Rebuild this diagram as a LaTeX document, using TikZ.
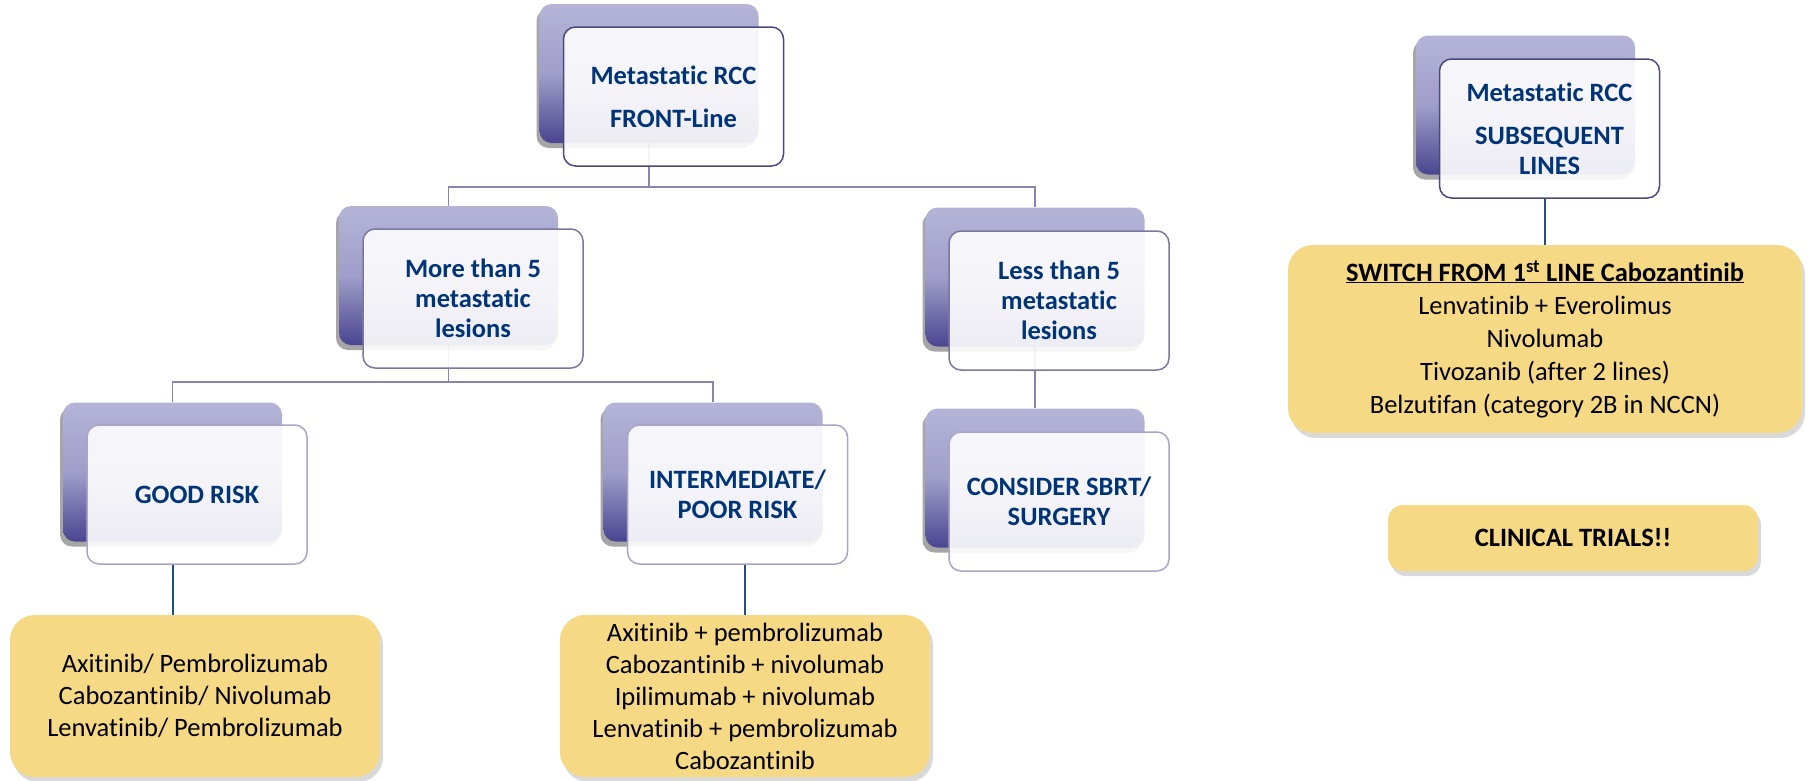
\documentclass[tikz,border=0pt]{standalone}
\usepackage{fontspec}
\setmainfont{Carlito}[Ligatures={NoCommon}]
\usetikzlibrary{shadows,calc,backgrounds}
\definecolor{lav}{RGB}{181,180,216}
\definecolor{indi}{RGB}{74,69,144}
\definecolor{headblue}{RGB}{0,52,120}
\definecolor{bordA}{RGB}{75,72,128}
\definecolor{bordB}{RGB}{122,120,160}
\definecolor{bordC}{RGB}{168,165,197}
\definecolor{treeline}{RGB}{135,132,175}
\definecolor{linkblue}{RGB}{31,78,140}
\definecolor{ylw}{RGB}{246,217,133}
\newcommand\headfont{\fontsize{26.5}{30}\selectfont\bfseries}
\newcommand\bodyfont{\fontsize{26.5}{32}\selectfont}
\tikzset{
 backbox/.style={minimum width=219pt, minimum height=139pt, rounded corners=12pt, inner sep=0pt,
   top color=lav, bottom color=indi, middle color=lav!80!indi,
   drop shadow={shadow xshift=-3pt, shadow yshift=-5pt, opacity=0.35, fill=black}},
 frontbox/.style={minimum width=220pt, minimum height=139pt, rounded corners=12pt, inner sep=4pt,
   fill=white, fill opacity=0.9, text opacity=1, draw, line width=1.5pt, align=center,
   text=headblue, font=\headfont},
 ybox/.style={fill=ylw, rounded corners=25pt, align=center, font=\bodyfont, inner sep=0pt,
   drop shadow={shadow xshift=3pt, shadow yshift=-5pt, opacity=0.3}},
 tree/.style={draw=treeline, line width=1.8pt},
 link/.style={draw=linkblue, line width=2pt},
}
\begin{document}
\begin{tikzpicture}[x=1pt,y=-1pt]
\useasboundingbox (0,0) rectangle (1810,780);
% back boxes
\node[backbox] (topb) at (649,73.5) {};
\node[backbox] (moreb) at (448.5,275.5) {};
\node[backbox] (lessb) at (1035,277) {};
\node[backbox] (goodb) at (172.5,472) {};
\node[backbox] (interb) at (713,472) {};
\node[backbox] (considerb) at (1035,478) {};
\node[backbox] (subsb) at (1525.5,105) {};
% tree connectors
\coordinate (bus1) at (0,187);
\coordinate (bus2) at (0,382);
\begin{scope}[on background layer]
\draw[tree] (topb.south) -- (topb.center |- bus1) -| (moreb.north);
\draw[tree] (topb.center |- bus1) -| (lessb.north);
\draw[tree] (moreb.south) -- (moreb.center |- bus2) -| (goodb.north);
\draw[tree] (moreb.center |- bus2) -| (interb.north);
\draw[tree] (lessb.south) -- (considerb.north);
\end{scope}
% front boxes
\node[frontbox, draw=bordA] (top) at (673.5,96.5) {Metastatic RCC\\[13pt]FRONT-Line};
\node[frontbox, draw=bordB] (more) at (473,298.5) {More than 5\\metastatic\\lesions};
\node[frontbox, draw=bordB] (less) at (1059,300.5) {Less than 5\\metastatic\\lesions};
\node[frontbox, draw=bordC] (good) at (197,494.5) {GOOD RISK};
\node[frontbox, draw=bordC] (inter) at (737.5,494.5) {INTERMEDIATE/\\POOR RISK};
\node[frontbox, draw=bordC] (consider) at (1059,501.5) {CONSIDER SBRT/\\SURGERY};
\node[frontbox, draw=bordA] (subs) at (1549.5,128.5) {Metastatic RCC\\[13pt]SUBSEQUENT\\LINES};
% yellow boxes
\node[ybox, minimum width=370pt, minimum height=162pt] (ya) at (195,696)
  {Axitinib/ Pembrolizumab\\Cabozantinib/ Nivolumab\\Lenvatinib/ Pembrolizumab};
\node[ybox, minimum width=370pt, minimum height=162pt] (yb) at (745,696)
  {Axitinib + pembrolizumab\\Cabozantinib + nivolumab\\Ipilimumab + nivolumab\\Lenvatinib + pembrolizumab\\Cabozantinib};
\node[ybox, minimum width=514pt, minimum height=188pt, font=\fontsize{26.5}{33}\selectfont] (sw) at (1545,339)
  {\underline{\textbf{SWITCH FROM 1\textsuperscript{st} LINE Cabozantinib}}\\Lenvatinib + Everolimus\\Nivolumab\\Tivozanib (after 2 lines)\\Belzutifan (category 2B in NCCN)};
\node[ybox, rounded corners=15pt, minimum width=370pt, minimum height=66pt, font=\fontsize{26.5}{32}\selectfont\bfseries] (clin) at (1573,538) {CLINICAL TRIALS!!};
% links to yellow boxes
\draw[link] (good.south -| goodb.center) -- (goodb.center |- ya.north);
\draw[link] (yb.north |- inter.south) -- (yb.north);
\draw[link] (sw.north |- subs.south) -- (sw.north);
\end{tikzpicture}
\end{document}
